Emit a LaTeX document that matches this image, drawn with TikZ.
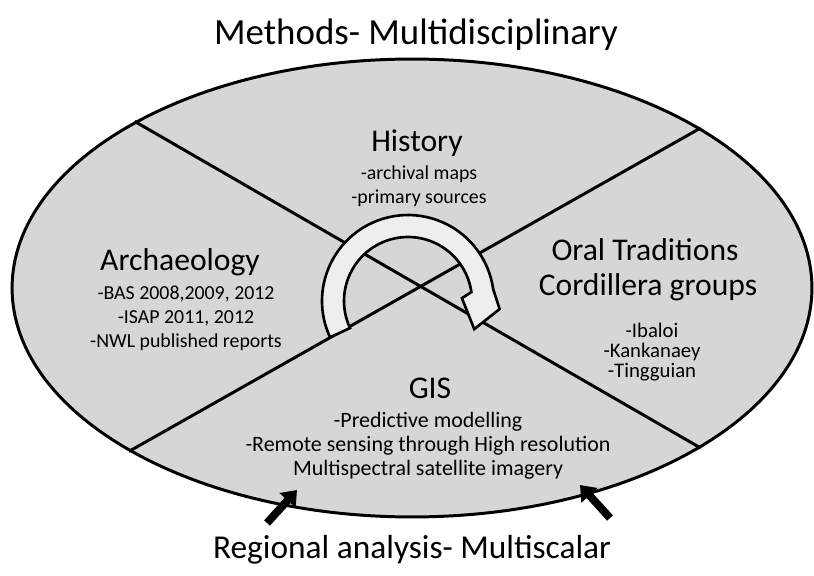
\documentclass[tikz,border=0pt]{standalone}
\usepackage{fontspec}
\setmainfont{Carlito}
\usetikzlibrary{arrows.meta,shapes.geometric}
\definecolor{oval-grey}{RGB}{214,214,214}
\definecolor{loop-grey}{RGB}{238,238,238}
\tikzset{
	banner/.style={font=\fontsize{21}{25}\selectfont, inner sep=0pt},
	heading/.style={font=\fontsize{18}{21}\selectfont, inner sep=0pt},
	items/.style={font=\fontsize{11.3}{13.6}\selectfont, align=center, inner sep=0pt},
	divider/.style={line width=1.7pt},
	loop/.style={fill=loop-grey, line width=1.5pt, line join=miter},
	pointer/.style={line width=4.5pt, -{Triangle[length=8pt,width=12pt]}}
}

\begin{document}
\begin{tikzpicture}[x=0.02cm, y=0.02cm]
	\fill[white] (0,0) rectangle (814,575);
	\useasboundingbox (0,0) rectangle (814,575);
	\node[ellipse, draw, fill=oval-grey, line width=1.7pt, inner sep=0pt, minimum width=16cm, minimum height=9.16cm] (oval) at (412,287) {};
	\draw[divider] (oval.149.5) -- (oval.331);
	\draw[divider] (oval.29) -- (oval.210);
	\coordinate (hub) at (408,274);
	\draw[loop] ([shift={(205:1.72cm)}]hub) arc[start angle=205, end angle=8, radius=1.72cm]
		-- ([shift={(-5:1.84cm)}]hub) -- ([shift={(-23:1.44cm)}]hub) -- ([shift={(3:1.08cm)}]hub)
		-- ([shift={(8:1.28cm)}]hub) arc[start angle=8, end angle=205, radius=1.28cm] -- cycle;
	\node[banner] (top) at (416,540) {Methods- Multidisciplinary};
	\node[banner, font=\fontsize{19}{23}\selectfont] (bottom) at (412,25) {Regional analysis- Multiscalar};
	\node[heading] (history) at (417,432) {History};
	\node[items] (historyList) at (419,389) {-archival maps\\-primary sources};
	\node[heading] (archaeo) at (180,313) {Archaeology};
	\node[items] (archaeoList) at (186,257) {-BAS 2008,2009, 2012\\-ISAP 2011, 2012\\-NWL published reports};
	\node[heading] (oral) at (645,325) {Oral Traditions};
	\node[heading] (cordillera) at (648,288) {Cordillera groups};
	\node[items, font=\fontsize{11.8}{11.6}\selectfont] (oralList) at (652,223) {-Ibaloi\\-Kankanaey\\-Tingguian};
	\node[heading] (gis) at (430,187) {GIS};
	\node[items, font=\fontsize{12.5}{13.6}\selectfont] (gisList) at (428,129) {-Predictive modelling\\-Remote sensing through High resolution\\Multispectral satellite imagery};
	\coordinate (leftTail) at (267,52);
	\coordinate (leftTip) at (297,85);
	\coordinate (rightTail) at (610,57);
	\coordinate (rightTip) at (580,90);
	\draw[pointer] (leftTail) -- (leftTip);
	\draw[pointer] (rightTail) -- (rightTip);
\end{tikzpicture}
\end{document}
